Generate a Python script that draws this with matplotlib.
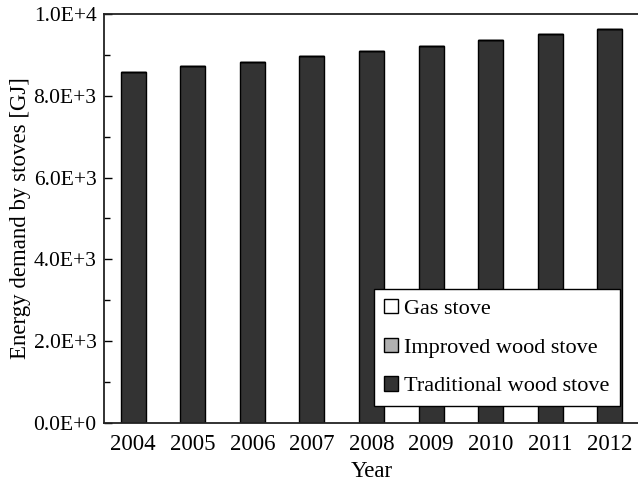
import numpy as np
import matplotlib
matplotlib.use("Agg")
import matplotlib.pyplot as plt
from matplotlib.ticker import MultipleLocator, FuncFormatter

plt.rcParams['font.family'] = ['Liberation Serif', 'DejaVu Serif']

years = ['2004', '2005', '2006', '2007', '2008', '2009', '2010', '2011', '2012']
traditional = [8590, 8730, 8835, 8975, 9090, 9225, 9360, 9505, 9625]
improved = [0, 0, 0, 0, 0, 0, 0, 0, 0]
gas = [0, 0, 0, 0, 0, 0, 0, 0, 0]

fig = plt.figure(figsize=(6.38, 4.9), dpi=100)
# right edge of the axes runs just past the figure edge
ax = fig.add_axes([103.5 / 638, 67 / 490, 536 / 638, 409 / 490])

x = np.arange(len(years))
w = 0.42
trad = np.array(traditional)
imp = np.array(improved)
b1 = ax.bar(x, trad, w, color='#333333', edgecolor='black', linewidth=1.0,
            label='Traditional wood stove')
b2 = ax.bar(x, imp, w, bottom=trad, color='#b0b0b0', edgecolor='black',
            linewidth=1.0, label='Improved wood stove')
b3 = ax.bar(x, gas, w, bottom=trad + imp, color='white', edgecolor='black',
            linewidth=1.0, label='Gas stove')

ax.set_xlim(-0.5, 8.5)
ax.set_ylim(0, 10000)
ax.set_xticks(x)
ax.set_xticklabels(years)
ax.yaxis.set_major_locator(MultipleLocator(2000))
ax.yaxis.set_minor_locator(MultipleLocator(1000))


def sci(v, pos):
    if v == 0:
        return '0.0E+0'
    e = int(np.floor(np.log10(abs(v))))
    return '%.1fE+%d' % (v / 10 ** e, e)


ax.yaxis.set_major_formatter(FuncFormatter(sci))
ax.tick_params(axis='y', which='major', direction='in', length=6, width=1.0,
               labelsize=15.5, pad=5)
ax.tick_params(axis='y', which='minor', direction='in', length=4, width=1.0)
ax.tick_params(axis='x', length=0, labelsize=16.5, pad=8)

for s in ax.spines.values():
    s.set_linewidth(1.3)
    s.set_color('#222222')

ax.set_xlabel('Year', fontsize=16.5, labelpad=4)
ax.set_ylabel('Energy demand by stoves [GJ]', fontsize=16.5, labelpad=2)

leg = ax.legend(handles=[b3, b2, b1], loc='upper left',
                bbox_to_anchor=(0.505, 0.328), fontsize=16, frameon=True,
                fancybox=False, framealpha=1, edgecolor='black',
                handlelength=0.6, handleheight=0.6, handletextpad=0.3,
                labelspacing=0.85, borderpad=0.45, borderaxespad=0)
leg.get_frame().set_linewidth(1.0)

fig.savefig('out.png', dpi=100)
